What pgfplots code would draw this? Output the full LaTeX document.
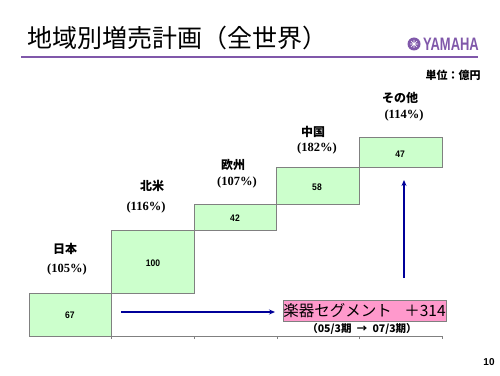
\documentclass[border=0pt]{standalone}
\usepackage{pgfplots}
\pgfplotsset{compat=1.18}
\usetikzlibrary{arrows.meta}
\usepackage{fontspec}
\setmainfont{Liberation Sans}
\newfontfamily\jp{Noto Sans CJK JP}
\newfontfamily\serif{Liberation Serif}
\definecolor{barfill}{RGB}{204,255,204}
\definecolor{bargray}{RGB}{128,128,128}
\definecolor{ypurple}{RGB}{128,88,170}
\definecolor{arrowblue}{RGB}{0,0,153}
\definecolor{pinkbox}{RGB}{255,153,204}
\begin{document}
\begin{tikzpicture}
\path[use as bounding box, fill=white] (0pt,0pt) rectangle (500pt,375pt);
\begin{axis}[
  at={(29pt,39pt)}, anchor=south west, scale only axis,
  width=413pt, height=252.4pt,
  xmin=-0.5, xmax=4.5, ymin=0, ymax=400,
  ybar stacked, bar width=1,
  axis x line*=bottom, axis y line=none,
  x axis line style={bargray, line width=0.8pt, -},
  xtick={0.5,1.5,2.5,3.5,4.5}, xticklabels={},
  tick align=outside, major tick length=3pt,
  tick style={bargray, line width=0.6pt},
  clip=false,
]
\addplot[draw=none, fill=none] coordinates {(0,0) (1,67) (2,167) (3,209) (4,267)};
\addplot[fill=barfill, draw=bargray, line width=0.8pt] coordinates {(0,67) (1,100) (2,42) (3,58) (4,47)};
\end{axis}
% title
\node[anchor=west, inner sep=0pt] at (27pt,337pt) {\jp\fontsize{25}{25}\selectfont 地域別増売計画（全世界）};
\draw[ypurple, line width=1.5pt] (21pt,318pt) -- (478pt,318pt);
% logo
\fill[ypurple] (414pt,331pt) circle (6.5pt);
\draw[white, line width=0.6pt] (410pt,331pt) -- (418pt,331pt) (414pt,327pt) -- (414pt,335pt) (411pt,328pt) -- (417pt,334pt) (411pt,334pt) -- (417pt,328pt);
\node[anchor=west, inner sep=0pt, xscale=0.72, text=ypurple] at (423pt,331pt) {\fontsize{18}{18}\selectfont\bfseries YAMAHA};
\node[inner sep=0pt] at (453pt,300pt) {\jp\fontsize{11}{11}\selectfont\bfseries 単位：億円};
% bar values
\foreach \x/\y/\t in {70/60/67, 153/112/100, 235/157/42, 317/188/58, 400/221/47}
  \node[inner sep=0pt, xscale=0.9] at (\x pt,\y pt) {\fontsize{9.5}{9.5}\selectfont\bfseries \t};
% category labels
\foreach \x/\y/\t in {65/126/日本, 152/189/北米, 233/210/欧州, 313/243/中国, 400/277/その他}
  \node[inner sep=0pt] at (\x pt,\y pt) {\jp\fontsize{12}{12}\selectfont\bfseries \t};
\foreach \x/\y/\t in {67/106/105, 146/168/116, 237/193/107, 317/227/182, 404/260/114}
  \node[inner sep=0pt] at (\x pt,\y pt) {\serif\fontsize{12.5}{12.5}\selectfont\bfseries (\t\%)};
% arrows
\draw[arrowblue, line width=1.6pt, -{Stealth[length=6pt,width=5pt]}] (121pt,63pt) -- (275pt,63pt);
\draw[arrowblue, line width=1.6pt, -{Stealth[length=6pt,width=5pt]}] (404pt,97pt) -- (404pt,195pt);
% pink box
\draw[fill=pinkbox, draw=bargray, line width=0.8pt] (283pt,54pt) rectangle (446pt,75pt);
\node[inner sep=0pt] at (364.5pt,64.5pt) {\jp\fontsize{15.5}{15.5}\selectfont 楽器セグメント\hspace{0.8em}＋314};
\node[inner sep=0pt] at (362pt,46pt) {\jp\fontsize{10.5}{10.5}\selectfont\bfseries （05/3期\hspace{0.5em}→\hspace{0.5em}07/3期）};
% page number
\node[inner sep=0pt] at (489pt,13pt) {\fontsize{10}{10}\selectfont\bfseries 10};
\end{tikzpicture}
\end{document}
